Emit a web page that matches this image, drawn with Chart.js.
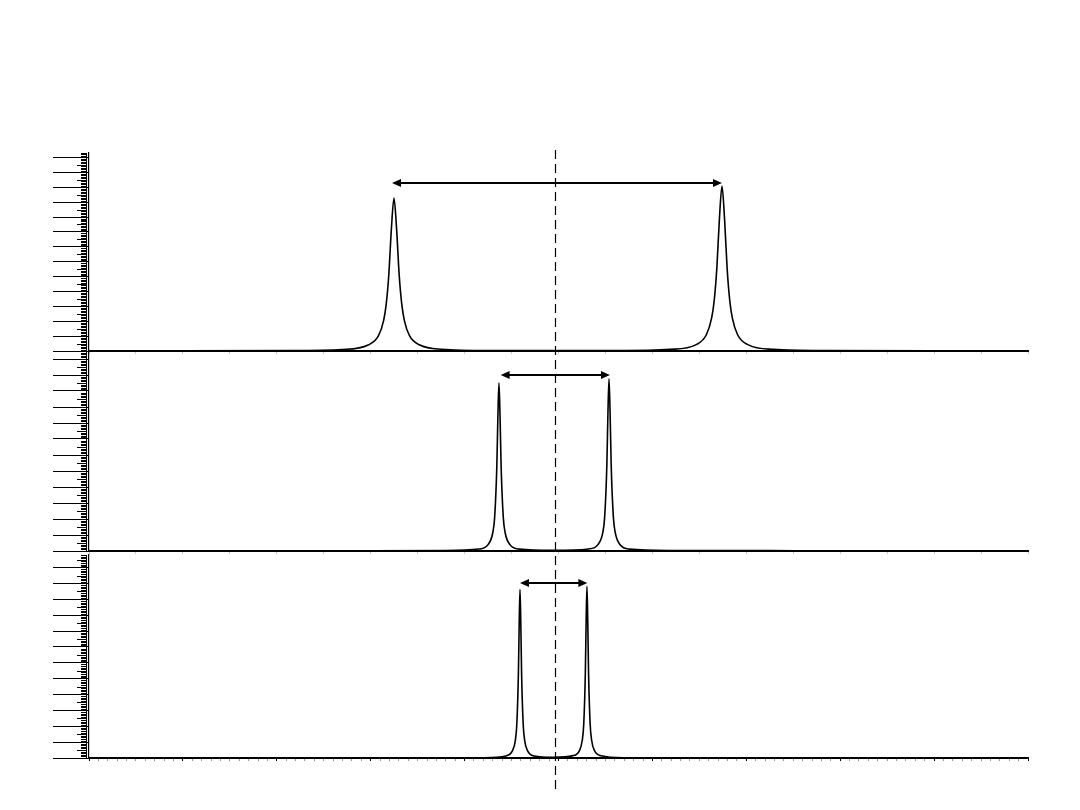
<!DOCTYPE html>
<html>
<head>
<meta charset="utf-8">
<script src="https://cdn.jsdelivr.net/npm/chart.js@4.4.0/dist/chart.umd.min.js"></script>
<style>
  html, body { margin: 0; padding: 0; background: #fff; }
  #wrap { position: relative; width: 1080px; height: 810px; overflow: hidden; background: #fff; }
  canvas { position: absolute; left: 0; }
</style>
</head>
<body>
<div id="wrap">
  <canvas id="panelTop" width="1080" height="356" style="top:0px"></canvas>
  <canvas id="panelMid" width="1080" height="222" style="top:340px"></canvas>
  <canvas id="panelLow" width="1080" height="265" style="top:545px"></canvas>
</div>
<script>
// spectrum traces (x in channel units 0..100)
const topX = [0, 10, 21.48, 26.98, 29.73, 30.83, 31.38, 31.655, 31.93, 32.205, 32.48, 32.755, 33.03, 33.305, 33.58, 34.13, 35.23, 37.98, 43.48, 50,
  56.41, 61.91, 64.66, 65.76, 66.31, 66.585, 66.86, 67.135, 67.41, 67.685, 67.96, 68.235, 68.51, 69.06, 70.16, 72.91, 78.41, 90, 100];
const topY = [0.01, 0.02, 0.03, 0.1, 0.4, 1.03, 2.06, 3.16, 5.14, 8.22, 10.28, 8.22, 5.14, 3.16, 2.06, 1.03, 0.4, 0.1, 0.03, 0.03,
  0.03, 0.11, 0.43, 1.11, 2.22, 3.41, 5.54, 8.86, 11.08, 8.86, 5.54, 3.41, 2.22, 1.11, 0.43, 0.11, 0.03, 0.02, 0.01];

const midX = [0, 30, 38, 41.5, 42.5, 43, 43.2, 43.43, 43.545, 43.66, 43.775, 43.89, 44.12, 44.32, 44.82, 45.82, 49.5, 53.2, 54.2, 54.72, 54.92, 55.15, 55.265, 55.38, 55.495, 55.61, 55.84, 56.04, 56.56, 57.56, 62, 75, 100];
const midY = [0.01, 0.02, 0.03, 0.12, 0.4, 1.14, 2.1, 5.26, 8.4, 10.52, 8.4, 5.26, 2.1, 1.14, 0.4, 0.12, 0.04, 0.13, 0.4, 1.16, 2.15, 5.39, 8.62, 10.77, 8.62, 5.39, 2.15, 1.16, 0.39, 0.12, 0.03, 0.02, 0.01];

const lowX = [0, 35, 42, 44.4, 45.1, 45.4, 45.56, 45.73, 45.815, 45.9, 45.985, 46.07, 46.24, 46.4, 46.7, 47.4, 49.5, 51.53, 52.23, 52.53, 52.69, 52.86, 52.945, 53.03, 53.115, 53.2, 53.37, 53.53, 53.83, 54.53, 57, 70, 100];
const lowY = [0.01, 0.01, 0.02, 0.13, 0.46, 1.1, 2.13, 5.32, 8.5, 10.63, 8.5, 5.32, 2.13, 1.1, 0.46, 0.13, 0.05, 0.15, 0.47, 1.12, 2.16, 5.41, 8.66, 10.82, 8.66, 5.41, 2.16, 1.12, 0.47, 0.14, 0.02, 0.01, 0.01];

// splitting arrows: [from, to, height] per panel
const topArrow = [32.27, 67.41, 11.28];
const midArrow = [43.84, 55.48, 11.0];
const lowArrow = [45.9, 53.07, 11.03];

// centre line
const centreX = 49.6;

// y ranges of the three panels
const yMaxes = [13.3, 12.5, 12.8];

// page band of the dashed centre line
const DASH_START = 150, DASH_END = 790;

const decorations = {
  id: 'decorations',
  afterDraw(chart, args, opts) {
    const ctx = chart.ctx;
    const xs = chart.scales.x, ys = chart.scales.y;
    const area = chart.chartArea;

    // comb of minor ticks next to the y axis
    const spine = area.left - 3;
    ctx.save();
    ctx.strokeStyle = '#000';
    ctx.lineWidth = 1;
    ctx.beginPath();
    ctx.moveTo(spine + 0.5, area.top);
    ctx.lineTo(spine + 0.5, area.bottom);
    for (let i = 1; i * 0.1 <= ys.max + 1e-6; i++) {
      if (i % 10 === 0) continue;
      const py = Math.round(ys.getPixelForValue(i * 0.1)) + 0.5;
      const len = i % 5 === 0 ? 9 : 5;
      ctx.moveTo(spine - len, py);
      ctx.lineTo(spine + 0.5, py);
    }
    ctx.stroke();
    ctx.restore();

    // dashed centre line, only inside this canvas's band
    const cx = Math.round(xs.getPixelForValue(centreX)) + 0.5;
    const from = Math.max(opts.bandFrom, DASH_START);
    const to = Math.min(opts.bandTo, DASH_END);
    ctx.save();
    ctx.strokeStyle = '#000';
    ctx.lineWidth = 1.2;
    ctx.setLineDash([9, 5]);
    ctx.lineDashOffset = from - DASH_START;
    ctx.beginPath();
    ctx.moveTo(cx, from - opts.pageTop);
    ctx.lineTo(cx, to - opts.pageTop);
    ctx.stroke();
    ctx.restore();

    // double-headed arrow
    const [a, b, h] = opts.arrow;
    const xa = xs.getPixelForValue(a), xb = xs.getPixelForValue(b);
    const py = ys.getPixelForValue(h);
    const head = 9, hw = 4;
    ctx.save();
    ctx.strokeStyle = '#000';
    ctx.fillStyle = '#000';
    ctx.lineWidth = 2;
    ctx.beginPath();
    ctx.moveTo(xa + head - 1, py);
    ctx.lineTo(xb - head + 1, py);
    ctx.stroke();
    ctx.beginPath();
    ctx.moveTo(xa, py);
    ctx.lineTo(xa + head, py - hw);
    ctx.lineTo(xa + head, py + hw);
    ctx.closePath();
    ctx.moveTo(xb, py);
    ctx.lineTo(xb - head, py - hw);
    ctx.lineTo(xb - head, py + hw);
    ctx.closePath();
    ctx.fill();
    ctx.restore();
  }
};

function makePanel(id, xsArr, ysArr, yMax, arrow, pad, xStep, tickCol, band) {
  const points = xsArr.map((x, i) => ({ x: x, y: ysArr[i] }));
  return new Chart(document.getElementById(id), {
    type: 'line',
    data: {
      datasets: [{
        data: points,
        borderColor: '#000',
        borderWidth: 1.6,
        pointRadius: 0,
        fill: false,
        cubicInterpolationMode: 'monotone'
      }]
    },
    options: {
      responsive: false,
      animation: false,
      layout: { padding: pad },
      plugins: {
        legend: { display: false },
        tooltip: { enabled: false },
        decorations: { arrow: arrow, pageTop: band[0], bandFrom: band[1], bandTo: band[2] }
      },
      scales: {
        x: {
          type: 'linear',
          min: 0,
          max: 100,
          border: { display: true, color: '#000', width: 2 },
          grid: { drawOnChartArea: false, drawTicks: true, tickLength: 3, tickWidth: 1, tickColor: tickCol },
          ticks: { display: false, stepSize: xStep, includeBounds: false }
        },
        y: {
          min: 0,
          max: yMax,
          border: { display: true, color: '#000', width: 1.2 },
          grid: { drawOnChartArea: false, drawTicks: true, tickLength: 36, tickWidth: 1, tickColor: '#000' },
          ticks: { display: false, stepSize: 1, includeBounds: false }
        }
      }
    },
    plugins: [decorations]
  });
}

makePanel('panelTop', topX, topY, yMaxes[0], topArrow,
  { top: 153, bottom: 2, left: 53, right: 52 }, 5, '#c8c8c8', [0, 0, 351]);
makePanel('panelMid', midX, midY, yMaxes[1], midArrow,
  { top: 11, bottom: 8, left: 53, right: 52 }, 5, '#c8c8c8', [340, 351, 551]);
makePanel('panelLow', lowX, lowY, yMaxes[2], lowArrow,
  { top: 10, bottom: 49, left: 53, right: 52 }, 1,
  ctx => (ctx.tick && ctx.tick.value % 10 === 0) ? '#000' : '#999', [545, 551, 810]);
</script>
</body>
</html>
